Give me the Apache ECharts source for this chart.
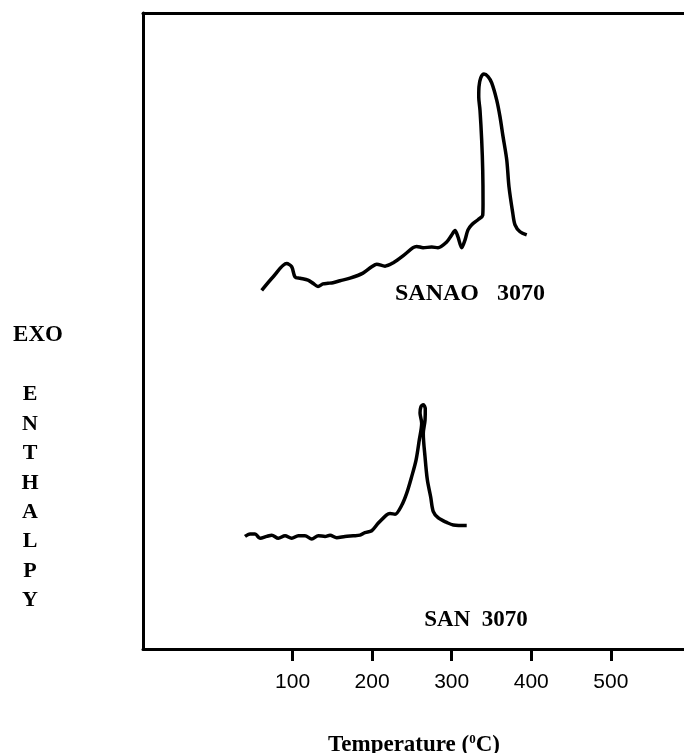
<!DOCTYPE html>
<html>
<head>
<meta charset="utf-8">
<script src="https://cdn.jsdelivr.net/npm/echarts@6/dist/echarts.min.js"></script>
<style>
  html, body { margin: 0; padding: 0; background: #fff; }
  #chart { width: 684px; height: 753px; }
</style>
</head>
<body>
<div id="chart"></div>
<script>
// DSC traces: temperature (°C) vs. exotherm (arbitrary units)
const sanaoTemp = [61.2, 75.4, 92.6, 98.9, 103.1, 109.4, 119.4, 125.7, 132.0, 138.3, 144.5, 150.8,
  159.6, 172.2, 188.5, 199.5, 205.8, 216.2, 226.2, 238.8, 251.4, 256.0, 264.0, 274.9, 282.8,
  293.7, 300.0, 304.2, 307.9, 312.6, 316.7, 320.5, 325.2, 333.1, 339.0, 339.4, 339.0, 337.7,
  335.6, 334.0, 334.3, 336.5, 340.6, 345.7, 350.3, 356.6, 360.7, 364.5, 369.2, 372.0, 376.7,
  379.6, 385.9, 394.3];
const sanaoExo = [56.4, 58.5, 60.6, 60.1, 58.5, 58.3, 58.0, 57.5, 57.0, 57.4, 57.5, 57.6,
  57.9, 58.3, 59.1, 60.1, 60.5, 60.2, 60.7, 61.8, 63.1, 63.3, 63.1, 63.2, 63.1,
  64.0, 65.1, 65.8, 64.8, 63.1, 64.3, 65.9, 66.7, 67.5, 68.2, 70.1, 75.3, 80.0,
  84.7, 86.8, 88.4, 89.8, 90.4, 90.0, 89.0, 86.3, 83.7, 80.6, 76.9, 72.7, 68.6,
  66.7, 65.6, 65.1];

const sanTemp = [40.2, 46.5, 52.8, 59.1, 67.5, 73.8, 82.1, 90.5, 98.9, 107.2, 115.6, 124.1,
  132.4, 140.8, 147.1, 155.5, 165.9, 176.3, 184.8, 191.0, 199.5, 207.8, 218.3, 222.5, 228.8,
  237.2, 243.5, 249.7, 255.2, 259.3, 262.3, 260.2, 261.4, 264.3, 266.8, 266.5, 264.3, 266.5,
  269.4, 273.6, 276.9, 283.2, 293.7, 302.0, 318.9];
const sanExo = [17.7, 18.1, 18.1, 17.4, 17.7, 17.9, 17.4, 17.8, 17.4, 17.8, 17.8, 17.3,
  17.8, 17.7, 17.9, 17.5, 17.7, 17.8, 17.9, 18.3, 18.6, 19.8, 21.1, 21.3, 21.2,
  22.6, 24.5, 27.1, 29.7, 32.9, 35.5, 37.1, 38.1, 38.4, 37.8, 36.0, 33.9, 30.2,
  26.6, 23.9, 21.6, 20.6, 19.9, 19.5, 19.4];

const tempTicks = [100, 200, 300, 400, 500];
const yLetters = ['E', 'N', 'T', 'H', 'A', 'L', 'P', 'Y'];

const pairs = (xs, ys) => xs.map((x, i) => [x, ys[i]]);

const serif = 'Liberation Serif';
const sans = 'Liberation Sans';

const chart = echarts.init(document.getElementById('chart'));
chart.setOption({
  animation: false,
  backgroundColor: '#fff',
  grid: { left: 143, right: 0, top: 13, bottom: 104 },
  xAxis: [
    {
      type: 'value',
      min: -88,
      max: 592,
      position: 'bottom',
      splitLine: { show: false },
      axisLine: { show: true, onZero: false, lineStyle: { color: '#000', width: 3 } },
      axisTick: {
        show: true,
        customValues: tempTicks,
        length: 12,
        inside: false,
        lineStyle: { color: '#000', width: 3 }
      },
      axisLabel: {
        customValues: tempTicks,
        margin: 23,
        color: '#000',
        fontFamily: sans,
        fontSize: 21
      }
    },
    {
      type: 'value',
      min: -88,
      max: 592,
      position: 'top',
      splitLine: { show: false },
      axisLine: { show: true, onZero: false, lineStyle: { color: '#000', width: 3 } },
      axisTick: { show: false },
      axisLabel: { show: false }
    }
  ],
  yAxis: {
    type: 'value',
    min: 0,
    max: 100,
    position: 'left',
    splitLine: { show: false },
    axisLine: { show: true, onZero: false, lineStyle: { color: '#000', width: 3 } },
    axisTick: { show: false },
    axisLabel: { show: false }
  },
  series: [
    {
      name: 'SANAO 3070',
      type: 'line',
      data: pairs(sanaoTemp, sanaoExo),
      symbol: 'none',
      smooth: 0.3,
      lineStyle: { color: '#000', width: 3.5 }
    },
    {
      name: 'SAN 3070',
      type: 'line',
      data: pairs(sanTemp, sanExo),
      symbol: 'none',
      smooth: 0.3,
      lineStyle: { color: '#000', width: 3.5 }
    }
  ],
  graphic: [
    {
      type: 'text', x: 470, y: 294,
      style: { text: 'SANAO   3070', fill: '#000', font: 'bold 24px "Liberation Serif"', align: 'center', verticalAlign: 'middle' }
    },
    {
      type: 'text', x: 476, y: 620,
      style: { text: 'SAN  3070', fill: '#000', font: 'bold 23px "Liberation Serif"', align: 'center', verticalAlign: 'middle' }
    },
    {
      type: 'text', x: 38, y: 335,
      style: { text: 'EXO', fill: '#000', font: 'bold 23px "Liberation Serif"', align: 'center', verticalAlign: 'middle' }
    },
    {
      type: 'text', x: 30, y: 380,
      style: {
        text: yLetters.join('\n'),
        fill: '#000',
        font: 'bold 22px "Liberation Serif"',
        lineHeight: 29.4,
        align: 'center',
        verticalAlign: 'top'
      }
    },
    {
      type: 'text', x: 414, y: 745,
      style: {
        text: '{a|Temperature (}{s|0}{a|C)}',
        align: 'center',
        verticalAlign: 'middle',
        rich: {
          a: { fontFamily: serif, fontWeight: 'bold', fontSize: 23, fill: '#000', lineHeight: 24 },
          s: { fontFamily: serif, fontWeight: 'bold', fontSize: 13, fill: '#000', verticalAlign: 'top', lineHeight: 24 }
        }
      }
    }
  ]
});
</script>
</body>
</html>
